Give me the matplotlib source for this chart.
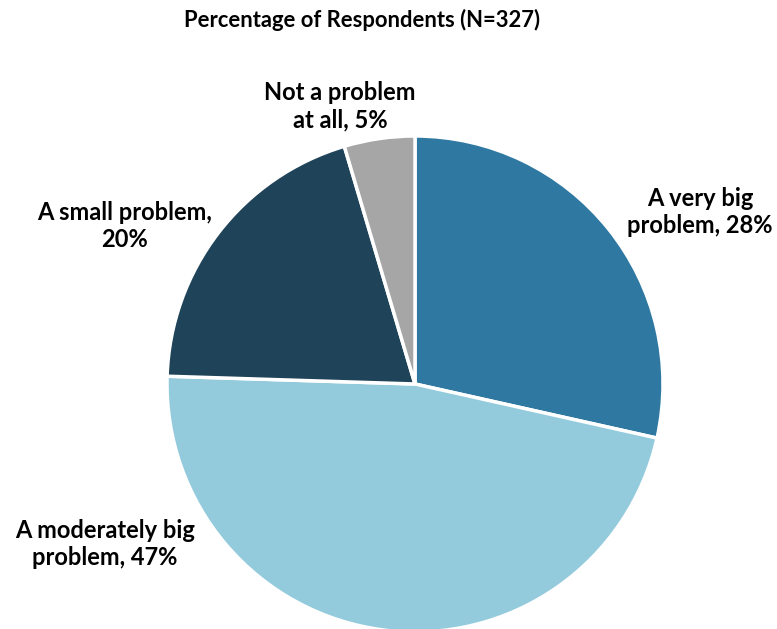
import matplotlib
matplotlib.use("Agg")
import matplotlib.pyplot as plt

categories = ["A very big problem", "A moderately big problem", "A small problem", "Not a problem at all"]
# slice sizes (labels show the rounded values)
values = [28.5, 47.0, 19.9, 4.6]
label_texts = ["A very big\nproblem, 28%", "A moderately big\nproblem, 47%",
               "A small problem,\n20%", "Not a problem\nat all, 5%"]
colors = ["#2E78A1", "#93CBDD", "#1F4459", "#A6A6A6"]
title = "Percentage of Respondents (N=327)"

plt.rcParams['font.family'] = ['Lato', 'DejaVu Sans']

W, H = 777, 629
fig = plt.figure(figsize=(W / 100, H / 100), dpi=100)

# pie centre and radius in pixels
cx, cy, r = 415, 384, 248
ax = fig.add_axes([(cx - r) / W, (H - cy - r) / H, 2 * r / W, 2 * r / H])
ax.pie(values, colors=colors, startangle=90, counterclock=False, radius=1,
       wedgeprops=dict(edgecolor="white", linewidth=2.5))
ax.set_xlim(-1, 1)
ax.set_ylim(-1, 1)
ax.set_aspect("equal")
ax.axis("off")

label_pos = [(700, 212), (105, 544), (125, 226), (340, 106)]
for txt, (px, py) in zip(label_texts, label_pos):
    fig.text(px / W, 1 - py / H, txt, ha="center", va="center",
             fontsize=17, fontweight="bold", color="black", linespacing=1.25)

fig.text(362 / W, 1 - 20 / H, title, ha="center", va="center",
         fontsize=15.8, fontweight="bold")

fig.savefig("out.png", dpi=100)
